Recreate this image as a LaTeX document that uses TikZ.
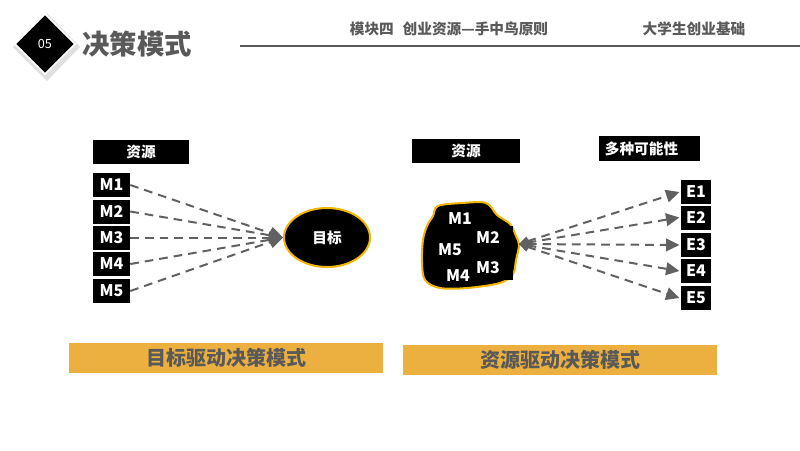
\documentclass[tikz,border=0pt]{standalone}
\usepackage{fontspec}
\setmainfont{Noto Sans CJK SC}
\usetikzlibrary{shapes.geometric,arrows.meta}
\definecolor{txtgray}{HTML}{595959}
\definecolor{arrgray}{HTML}{616161}
\definecolor{gold}{HTML}{F2B600}
\definecolor{barcol}{HTML}{EBB03F}
\tikzset{
  blk/.style={fill=black,text=white,font=\bfseries\fontsize{11}{12}\selectfont,inner sep=0pt,minimum height=18pt},
  mbox/.style={blk,font=\bfseries\fontsize{12}{13}\selectfont,minimum width=27.75pt},
  ebox/.style={blk,font=\bfseries\fontsize{12}{13}\selectfont,minimum width=22.5pt},
  bar/.style={fill=barcol,text=txtgray,font=\bfseries\fontsize{15}{16}\selectfont,minimum width=235.5pt,minimum height=22.5pt,inner sep=0pt},
  dasharr/.style={draw=arrgray,line width=1.5pt,dash pattern=on 6.5pt off 4.5pt,-{Triangle[length=10pt,width=9.5pt]}},
  dasharr2/.style={draw=arrgray,line width=1.5pt,dash pattern=on 6.5pt off 4.5pt,{Triangle[length=7pt,width=7pt]}-{Triangle[length=10pt,width=9.5pt]}},
  blobtxt/.style={text=white,font=\bfseries\fontsize{12}{13}\selectfont,inner sep=0pt},
  hdr/.style={text=txtgray,font=\bfseries\fontsize{11}{12}\selectfont,inner sep=0pt}
}
\begin{document}
\begin{tikzpicture}[x=0.75pt,y=-0.75pt]
\useasboundingbox (0,0) rectangle (800,450);
\fill[white] (0,0) rectangle (800,450);
% header
\fill[black!20,opacity=0.6] (47,13) -- (80,47) -- (47,81) -- (13,47) -- cycle;
\node[diamond,fill=white,minimum width=47pt,minimum height=47pt,inner sep=0pt] (dw) at (45,44) {};
\node[diamond,fill=black,minimum width=43pt,minimum height=43pt,inner sep=0pt,text=white,font=\fontsize{9.5}{10}\selectfont] (num) at (45,44) {05};
\node[text=txtgray,font=\bfseries\fontsize{20.5}{22}\selectfont,inner sep=0pt] (title) at (137,44) {决策模式};
\node[hdr] (h1) at (449,29) {模块四\hspace{0.6em}创业资源—手中鸟原则};
\node[hdr] (h2) at (694,29) {大学生创业基础};
\coordinate (l1) at (240,46);
\coordinate (l2) at (800,46);
\draw[txtgray,line width=0.9pt] (l1) -- (l2);
% left panel
\node[blk,minimum width=72pt] (res1) at (141,152) {资源};
\node[mbox] (m1) at (111.5,185) {M1};
\node[mbox] (m2) at (111.5,211.5) {M2};
\node[mbox] (m3) at (111.5,237.5) {M3};
\node[mbox] (m4) at (111.5,264) {M4};
\node[mbox] (m5) at (111.5,291) {M5};
\node[ellipse,fill=black,draw=gold,line width=1.5pt,minimum width=64.5pt,minimum height=44.25pt,inner sep=0pt,text=white,font=\bfseries\fontsize{11}{12}\selectfont] (goal) at (327,237.5) {目标};
\foreach \m in {m1,m2,m3,m4,m5}{
  \draw[dasharr] (\m.east) -- (goal.west);
}
% right panel
\node[blk,minimum width=81pt] (res2) at (466,151) {资源};
\node[blk,minimum height=18.75pt,text width=67pt,align=left,inner xsep=4.5pt] (poss) at (649.5,148.5) {多种可能性};
\fill[black,draw=gold,line width=1.5pt] plot[smooth cycle,tension=0.55] coordinates {
 (438,206) (462,203) (486,203) (497,215) (510,224) (516,236) (519,245) (516,260)
 (513,274) (500,283) (467,288) (440,288) (425,280) (422,262) (423,240) (427,226) (433,216)};
\fill[black] (447,206) rectangle (487,232);
\fill[black] (472,226) rectangle (513,280);
\node[blobtxt] (b1) at (460,219) {M1};
\node[blobtxt] (b2) at (488,238) {M2};
\node[blobtxt] (b5) at (450,250) {M5};
\node[blobtxt] (b3) at (488,268) {M3};
\node[blobtxt] (b4) at (458,276) {M4};
\coordinate (src) at (519,244);
\node[ebox] (e1) at (696,192) {E1};
\node[ebox] (e2) at (696,217.5) {E2};
\node[ebox] (e3) at (696,245) {E3};
\node[ebox] (e4) at (696,271) {E4};
\node[ebox] (e5) at (696,298) {E5};
\foreach \e in {e1,e2,e3,e4,e5}{
  \draw[dasharr2] (src) -- ([xshift=-1pt]\e.west);
}
% bottom bars
\node[bar] (bar1) at (226,358) {目标驱动决策模式};
\node[bar] (bar2) at (560,360) {资源驱动决策模式};
\end{tikzpicture}
\end{document}
